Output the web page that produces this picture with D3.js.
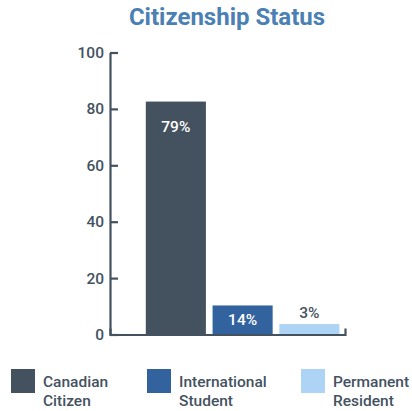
<!DOCTYPE html>
<html><head><meta charset="utf-8">
<script src="https://cdn.jsdelivr.net/npm/d3@7"></script>
<style>body{margin:0;background:#fff;font-family:Roboto,"Noto Sans",sans-serif;}</style>
</head><body>
<svg id="c" width="412" height="411"></svg>
<script>
const categories = ["Canadian Citizen", "International Student", "Permanent Resident"];
const legendLines = [["Canadian","Citizen"],["International","Student"],["Permanent","Resident"]];
const values = [82.6, 10.3, 3.7];
const labels = ["79%", "14%", "3%"];
const yTicks = [0, 20, 40, 60, 80, 100];
const colors = ["#44525f", "#33639e", "#aed4f5"];

const svg = d3.select("#c");
const axisColor = "#44525f";
const x = d3.scaleBand().domain(categories).range([110, 345]).paddingInner(0.1).paddingOuter(0.31).align(0.865);
const y = d3.scaleLinear().domain([0, 100]).range([334.5, 52.5]);

svg.append("text").attr("x", 227).attr("y", 25).attr("text-anchor", "middle")
  .attr("fill", "#4a80b3").attr("font-size", 24).attr("font-weight", "bold").text("Citizenship Status");

// bars
svg.selectAll("rect.bar").data(categories).enter().append("rect")
  .attr("x", d => x(d)).attr("width", x.bandwidth())
  .attr("y", (d,i) => y(values[i])).attr("height", (d,i) => y(0) - y(values[i]))
  .attr("fill", (d,i) => colors[i]);

// y axis
const yAxis = svg.append("g").attr("transform", "translate(110,0)")
  .call(d3.axisRight(y).tickValues(yTicks).tickSize(8).tickSizeOuter(0).tickFormat(d3.format("d")));
yAxis.select(".domain").attr("stroke", axisColor).attr("stroke-width", 2.2);
yAxis.selectAll(".tick line").attr("stroke", axisColor).attr("stroke-width", 2.2);
yAxis.selectAll(".tick text").attr("x", -6).attr("text-anchor", "end").attr("fill", axisColor)
  .attr("font-size", 15.5).attr("font-weight", 500).attr("font-family", "Roboto");

// x axis baseline
const xAxis = svg.append("g").attr("transform", `translate(0,${y(0)})`)
  .call(d3.axisTop(d3.scaleLinear().range([110, 345])).tickValues([]).tickSizeOuter(6));
xAxis.select(".domain").attr("stroke", axisColor).attr("stroke-width", 2.2).attr("fill", "none");

// value labels
svg.selectAll("text.val").data(categories).enter().append("text")
  .attr("x", d => x(d) + x.bandwidth()/2)
  .attr("y", (d,i) => i === 2 ? y(values[i]) - 6.5 : Math.min(y(values[i]) + 30, y(0) - 10))
  .attr("text-anchor", "middle").attr("font-size", 15.5).attr("font-weight", 500)
  .attr("fill", (d,i) => i === 2 ? axisColor : "#fff")
  .text((d,i) => labels[i]);

// legend
const legX = [11, 147, 301];
const lg = svg.selectAll("g.leg").data(categories).enter().append("g")
  .attr("transform", (d,i) => `translate(${legX[i]},369)`);
lg.append("rect").attr("width", 24).attr("height", 24).attr("fill", (d,i) => colors[i]);
lg.each(function(d,i){
  const t = d3.select(this).append("text").attr("fill", axisColor).attr("font-size", 15.5).attr("font-weight", 500);
  legendLines[i].forEach((s,j) => t.append("tspan").attr("x", 32).attr("y", 18 + j*19).text(s));
});
</script>
</body></html>
